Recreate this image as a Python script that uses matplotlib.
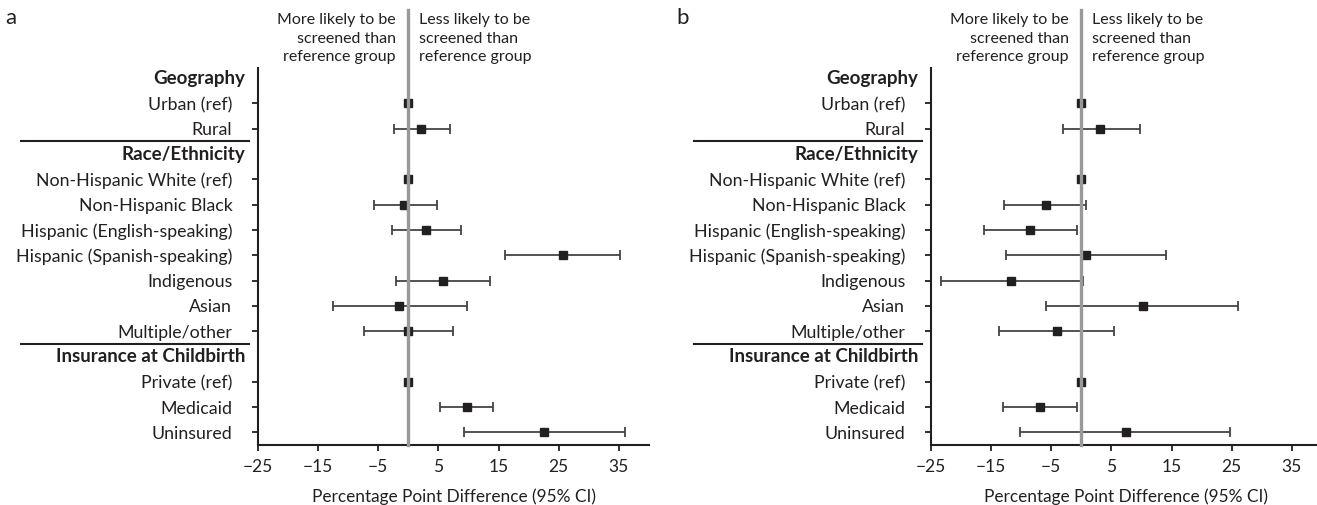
import numpy as np
import matplotlib
matplotlib.use("Agg")
import matplotlib.pyplot as plt

# -----------------------------
# Data
# -----------------------------

groups = ["Geography", "Race/Ethnicity", "Insurance at Childbirth"]

group_items = [
    ["Urban (ref)", "Rural"],
    [
        "Non-Hispanic White (ref)",
        "Non-Hispanic Black",
        "Hispanic (English-speaking)",
        "Hispanic (Spanish-speaking)",
        "Indigenous",
        "Asian",
        "Multiple/other",
    ],
    ["Private (ref)", "Medicaid", "Uninsured"],
]

# panel a: point estimate and 95% CI (ref groups have no interval)
a_est = [0, 2.1, 0, -0.7, 3.0, 25.7, 5.8, -1.5, 0.0, 0, 9.7, 22.6]
a_lo = [np.nan, -2.4, np.nan, -5.7, -2.8, 16.1, -2.1, -12.6, -7.4, np.nan, 5.2, 9.3]
a_hi = [np.nan, 6.9, np.nan, 4.8, 8.7, 35.2, 13.6, 9.7, 7.4, np.nan, 14.1, 36.0]

# panel b
b_est = [0, 3.1, 0, -5.8, -8.6, 0.8, -11.7, 10.2, -4.1, 0, -6.9, 7.4]
b_lo = [np.nan, -3.1, np.nan, -12.8, -16.2, -12.5, -23.4, -5.8, -13.7, np.nan, -13.0, -10.2]
b_hi = [np.nan, 9.8, np.nan, 0.8, -0.8, 14.1, 0.2, 26.0, 5.4, np.nan, -0.8, 24.7]

x_ticks = [-25, -15, -5, 5, 15, 25, 35]

# -----------------------------
# Row layout
# -----------------------------

header_rows = []
item_rows = []
item_labels = []
row = 0
for g, items in zip(groups, group_items):
    header_rows.append(row)
    row += 1
    for it in items:
        item_rows.append(row)
        item_labels.append(it)
        row += 1
n_rows = row

plt.rcParams["font.family"] = ["Lato", "DejaVu Sans"]
plt.rcParams["font.size"] = 12.8

INK = "#231f20"

fig = plt.figure(figsize=(13.17, 5.05), dpi=100)

W, H = 1317, 505
ax_w = 391
ax_bottom = (H - 445) / H
ax_h = 377 / H

ax_a = fig.add_axes([258 / W, ax_bottom, ax_w / W, ax_h])
ax_b = fig.add_axes([931 / W, ax_bottom, ax_w / W, ax_h])


def draw_panel(ax, est, lo, hi, letter, letter_x):
    est = np.array(est, dtype=float)
    lo = np.array(lo, dtype=float)
    hi = np.array(hi, dtype=float)
    y = np.array(item_rows, dtype=float)

    has_ci = ~np.isnan(lo)
    ax.errorbar(
        est[has_ci], y[has_ci],
        xerr=[est[has_ci] - lo[has_ci], hi[has_ci] - est[has_ci]],
        fmt="none", ecolor="#444444", elinewidth=1.3,
        capsize=3.5, capthick=1.3, zorder=2,
    )
    ax.plot(est, y, "s", color=INK, markersize=6, zorder=3, linestyle="none")

    # reference line, running up into the annotation area
    ax.plot([0, 0], [0, 1.155], color="#999999", linewidth=2.4,
            transform=ax.get_xaxis_transform(), clip_on=False, zorder=4)

    ax.set_xlim(-25, 40)
    ax.set_ylim(n_rows - 0.5, -0.4)
    ax.set_xticks(x_ticks)
    ax.set_yticks(item_rows)
    ax.set_yticklabels(item_labels)

    for s in ["top", "right"]:
        ax.spines[s].set_visible(False)
    for s in ["left", "bottom"]:
        ax.spines[s].set_linewidth(1.5)
        ax.spines[s].set_color(INK)

    ax.tick_params(axis="y", length=4.5, width=1.3, pad=14, colors=INK)
    ax.tick_params(axis="x", length=4, width=1.3, pad=6, colors=INK,
                   labelsize=12.5)

    ax.set_xlabel("Percentage Point Difference (95% CI)", labelpad=10,
                  color=INK, fontsize=12.4)

    # group headers
    for g, r in zip(groups, header_rows):
        ax.text(-0.033, r, g, transform=ax.get_yaxis_transform(),
                ha="right", va="center", fontweight="bold", fontsize=13.5,
                color=INK)

    # separators between groups
    for r in header_rows[1:]:
        ax.plot([-0.606, -0.023], [r - 0.5, r - 0.5], color=INK,
                linewidth=1.5, transform=ax.get_yaxis_transform(), clip_on=False)

    # direction notes either side of the reference line
    note_kw = dict(xy=(0, 1.078), xycoords=ax.get_xaxis_transform(),
                   textcoords="offset points", va="center", fontsize=11.5,
                   linespacing=1.4, color=INK)
    ax.annotate("More likely to be\nscreened than\nreference group",
                xytext=(-9, 0), ha="right", **note_kw)
    ax.annotate("Less likely to be\nscreened than\nreference group",
                xytext=(8, 0), ha="left", **note_kw)

    fig.text(letter_x / W, 1 - 18 / H, letter, fontsize=16,
             ha="left", va="center", color=INK)


draw_panel(ax_a, a_est, a_lo, a_hi, "a", 5)
draw_panel(ax_b, b_est, b_lo, b_hi, "b", 676)

fig.savefig("out.png", dpi=100)
